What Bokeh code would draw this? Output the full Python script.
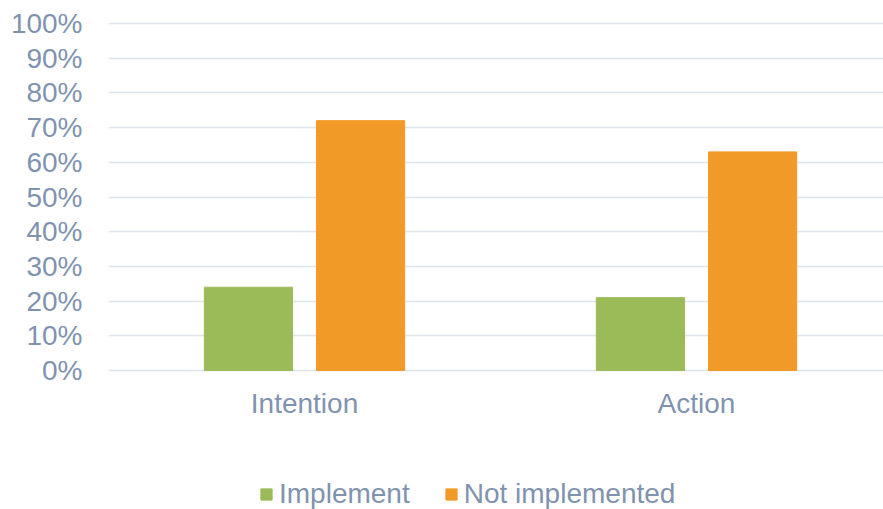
from bokeh.plotting import figure
from bokeh.models import ColumnDataSource, Range1d, NumeralTickFormatter, FixedTicker, Legend, LegendItem
from bokeh.core.properties import value
from bokeh.embed import file_html
from bokeh.resources import INLINE

categories = ["Intention", "Action"]
implement = [0.24, 0.21]
not_implemented = [0.72, 0.63]
series_names = ["Implement", "Not implemented"]
y_ticks = [i / 10 for i in range(11)]

TEXT = "#7F93AF"
GREEN = "#9BBB59"
ORANGE = "#F29A28"
FONT = "Liberation Sans"
FS = "28px"

xs = [i + 0.5 for i in range(len(categories))]
src = ColumnDataSource(dict(
    x_imp=[x - 0.143 for x in xs],
    x_not=[x + 0.143 for x in xs],
    imp=implement,
    notimp=not_implemented,
))

p = figure(width=883, height=509, output_backend="svg", toolbar_location=None,
           x_range=Range1d(0, 1.977), y_range=Range1d(-0.4006, 1.0058),
           min_border_left=108, min_border_right=0, min_border_top=21,
           min_border_bottom=0)
p.outline_line_color = None
p.background_fill_color = "white"

r1 = p.vbar(x="x_imp", top="imp", width=0.225, source=src, fill_color=GREEN, line_color=GREEN)
r2 = p.vbar(x="x_not", top="notimp", width=0.225, source=src, fill_color=ORANGE, line_color=ORANGE)

# category labels under the zero line
p.text(x=xs, y=[-0.095] * len(xs), text=categories, text_align="center",
       text_baseline="middle", text_font=value(FONT), text_font_size=FS,
       text_color=TEXT)

p.xaxis.visible = False
p.xgrid.grid_line_color = None
p.ygrid.grid_line_color = "#DFE3EB"
p.ygrid.grid_line_width = 1.6
p.yaxis.ticker = FixedTicker(ticks=y_ticks)
p.yaxis.formatter = NumeralTickFormatter(format="0%")
ax = p.yaxis[0]
ax.axis_line_color = None
ax.major_tick_line_color = None
ax.minor_tick_line_color = None
ax.major_label_text_color = TEXT
ax.major_label_text_font = FONT
ax.major_label_text_font_size = FS
ax.major_label_standoff = 20

legend = Legend(items=[LegendItem(label=series_names[0], renderers=[r1]),
                       LegendItem(label=series_names[1], renderers=[r2])],
                orientation="horizontal", location=(151, -1))
legend.label_text_font = FONT
legend.label_text_font_size = FS
legend.label_text_color = TEXT
legend.glyph_width = 14
legend.glyph_height = 14
legend.label_standoff = 6
legend.spacing = 34
legend.border_line_color = None
legend.background_fill_alpha = 0
legend.margin = 0
legend.padding = 0
p.add_layout(legend, "center")

open("out.html", "w").write(file_html(p, INLINE))
